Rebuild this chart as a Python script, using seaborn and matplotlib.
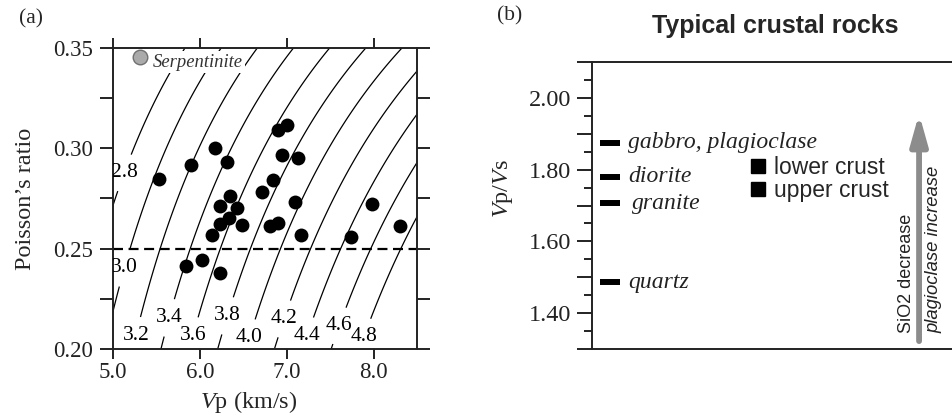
import numpy as np
import pandas as pd
import matplotlib
matplotlib.use("Agg")
import matplotlib.pyplot as plt
import seaborn as sns
from matplotlib.ticker import MultipleLocator, FixedLocator, FuncFormatter
from matplotlib.lines import Line2D

# ---------------- data ----------------
# panel (a): measured rocks (Vp km/s, Poisson's ratio)
vp_pts = [5.53, 5.90, 6.17, 6.31, 6.90, 7.00, 6.94, 7.13, 6.84, 6.71, 7.09,
          6.35, 6.23, 6.43, 6.34, 6.23, 6.49, 6.14, 6.81, 6.90, 7.17, 7.74,
          7.98, 8.31, 5.84, 6.03, 6.23]
nu_pts = [0.2847, 0.2919, 0.3002, 0.2932, 0.3093, 0.3115, 0.2965, 0.2952,
          0.2841, 0.2781, 0.2733, 0.2761, 0.2711, 0.2703, 0.2653, 0.2625,
          0.2616, 0.2566, 0.2611, 0.2628, 0.2570, 0.2558, 0.2724, 0.2611,
          0.2412, 0.2445, 0.2379]
serp_vp = [5.31]
serp_nu = [0.3455]
serp_label = "Serpentinite"
vs_levels = [2.8, 3.0, 3.2, 3.4, 3.6, 3.8, 4.0, 4.2, 4.4, 4.6, 4.8]
vs_label_vp = [5.15, 5.13, 5.27, 5.65, 5.92, 6.32, 6.57, 6.97, 7.24, 7.61, 7.92]
vs_label_nu = [0.2875, 0.2405, 0.2065, 0.2155, 0.2065, 0.2165, 0.2055, 0.215, 0.2065, 0.2115, 0.2055]
nu_ref = 0.25
x_ticks_a = [5.0, 6.0, 7.0, 8.0]
y_ticks_a = [0.20, 0.25, 0.30, 0.35]

# panel (b): typical crustal rocks Vp/Vs
rocks = ["gabbro, plagioclase", "diorite", "granite", "quartz"]
vpvs = [1.875, 1.780, 1.706, 1.486]
legend_labels = ["lower crust", "upper crust"]
y_ticks_b = [1.40, 1.60, 1.80, 2.00]

# ---------------- style ----------------
sns.set_theme(style="ticks")
plt.rcParams["font.family"] = ["Liberation Serif", "DejaVu Serif"]
plt.rcParams["mathtext.fontset"] = "custom"
plt.rcParams["mathtext.rm"] = "Liberation Serif"
plt.rcParams["mathtext.it"] = "Liberation Serif:italic"
plt.rcParams["axes.edgecolor"] = "#222222"
plt.rcParams["axes.linewidth"] = 1.4
plt.rcParams["xtick.color"] = "#222222"
plt.rcParams["ytick.color"] = "#222222"

fig = plt.figure(figsize=(9.53, 4.19), dpi=100)
W, H = 953, 419

def ax_rect(l, t, r, b):
    return [l / W, 1 - b / H, (r - l) / W, (b - t) / H]

# ================= panel (a) =================
ax1 = fig.add_axes(ax_rect(113, 48, 417, 349))
ax1.set_xlim(5.0, 8.5)
ax1.set_ylim(0.20, 0.35)

vp_grid = np.linspace(4.9, 8.6, 400)
nu_grid = np.linspace(0.195, 0.355, 400)
VP, NU = np.meshgrid(vp_grid, nu_grid)
VS = VP * np.sqrt((1 - 2 * NU) / (2 * (1 - NU)))
cs = ax1.contour(VP, NU, VS, levels=vs_levels, colors="black", linewidths=0.9, zorder=1)
texts = ax1.clabel(cs, levels=vs_levels, inline=True, inline_spacing=6, fontsize=15.5,
                   fmt="%.1f", manual=list(zip(vs_label_vp, vs_label_nu)))
for t in texts:
    t.set_rotation(0)

ax1.axhline(nu_ref, color="black", lw=1.6, dashes=(4.5, 2.5), zorder=2)

df = pd.DataFrame({"vp": vp_pts, "nu": nu_pts})
sns.scatterplot(data=df, x="vp", y="nu", color="black", s=100, linewidth=0,
                ax=ax1, zorder=4, legend=False)
sns.scatterplot(x=serp_vp, y=serp_nu, color="#aaaaaa", edgecolor="#707070", s=110,
                linewidth=1.0, ax=ax1, zorder=4, legend=False)
ax1.text(5.46, 0.343, serp_label, fontsize=13.4, style="italic", color="#333333",
         ha="left", va="center", zorder=3,
         bbox=dict(facecolor="white", edgecolor="none", pad=1.5))

ax1.xaxis.set_major_locator(FixedLocator(x_ticks_a))
ax1.xaxis.set_major_formatter(FuncFormatter(lambda v, p: f"{v:.1f}"))
ax1.yaxis.set_major_locator(FixedLocator(y_ticks_a))
ax1.yaxis.set_major_formatter(FuncFormatter(lambda v, p: f"{v:.2f}"))
ax1.yaxis.set_minor_locator(MultipleLocator(0.025))
ax1.tick_params(axis="both", which="both", direction="out", width=1.4, labelsize=16.5)
ax1.tick_params(axis="y", which="both", length=9.5, pad=5, right=True, left=True)
ax1.tick_params(axis="x", which="both", length=7, pad=2, top=True, bottom=True)
ax1.set_xlabel("$V$p (km/s)", fontsize=17.5, labelpad=5, x=0.447)
ax1.set_ylabel("Poisson\u2019s ratio", fontsize=17.5, labelpad=12)

# ================= panel (b) =================
ax2 = fig.add_axes(ax_rect(592, 62, 953, 349))
ax2.set_xlim(0, 1)
ax2.set_ylim(1.30, 2.10)
ax2.hlines(vpvs, 0.022, 0.078, color="black", lw=4.3)
for name, v in zip(rocks, vpvs):
    xoff = 0.11 if name == "granite" else 0.10
    ax2.text(xoff, v, name, fontsize=17, style="italic", color="#222222",
             ha="left", va="center")

handles = [Line2D([], [], ls="none", marker="s", color="black", markersize=9.5)
           for _ in legend_labels]
leg = ax2.legend(handles, legend_labels, loc="upper left", bbox_to_anchor=(0.437, 0.672),
                 frameon=False, handlelength=0.7, handletextpad=0.35, labelspacing=0.0,
                 borderpad=0, borderaxespad=0,
                 prop={"family": "Liberation Sans", "size": 16.5})

ax2.annotate("", xy=(0.906, 1.956), xytext=(0.906, 1.322),
             arrowprops=dict(arrowstyle="-|>,head_length=1.5,head_width=0.42",
                             color="#8c8c8c", lw=4.2, shrinkA=0, shrinkB=0))
ax2.text(0.872, 1.345, "SiO2 decrease", rotation=90, rotation_mode="anchor",
         ha="left", va="center", fontsize=13, family=["Liberation Sans"], color="#222222")
ax2.text(0.948, 1.345, "plagioclase increase", rotation=90, rotation_mode="anchor",
         ha="left", va="center", fontsize=13.3, style="italic",
         family=["Liberation Sans"], color="#222222")

ax2.yaxis.set_major_locator(MultipleLocator(0.1))
ax2.yaxis.set_minor_locator(MultipleLocator(0.05))
ax2.yaxis.set_major_formatter(FuncFormatter(
    lambda v, p: f"{v:.2f}" if any(abs(v - t) < 1e-6 for t in y_ticks_b) else ""))
ax2.set_xticks([])
ax2.tick_params(axis="y", which="major", length=11, width=1.4, labelsize=17.5, pad=4)
ax2.tick_params(axis="y", which="minor", length=6, width=1.4)
ax2.spines["right"].set_visible(False)
ax2.set_ylabel("$V$p/$V$s", fontsize=17.5, labelpad=10, y=0.561)
ax2.set_title("Typical crustal rocks", fontsize=18, fontweight="bold",
              family=["Liberation Sans"], x=0.507, pad=21)

fig.text(31 / W, 1 - 19 / H, "(a)", fontsize=15.5, ha="center", va="center")
fig.text(510 / W, 1 - 16 / H, "(b)", fontsize=15.5, ha="center", va="center")

fig.savefig("out.png", dpi=100, facecolor="white")
